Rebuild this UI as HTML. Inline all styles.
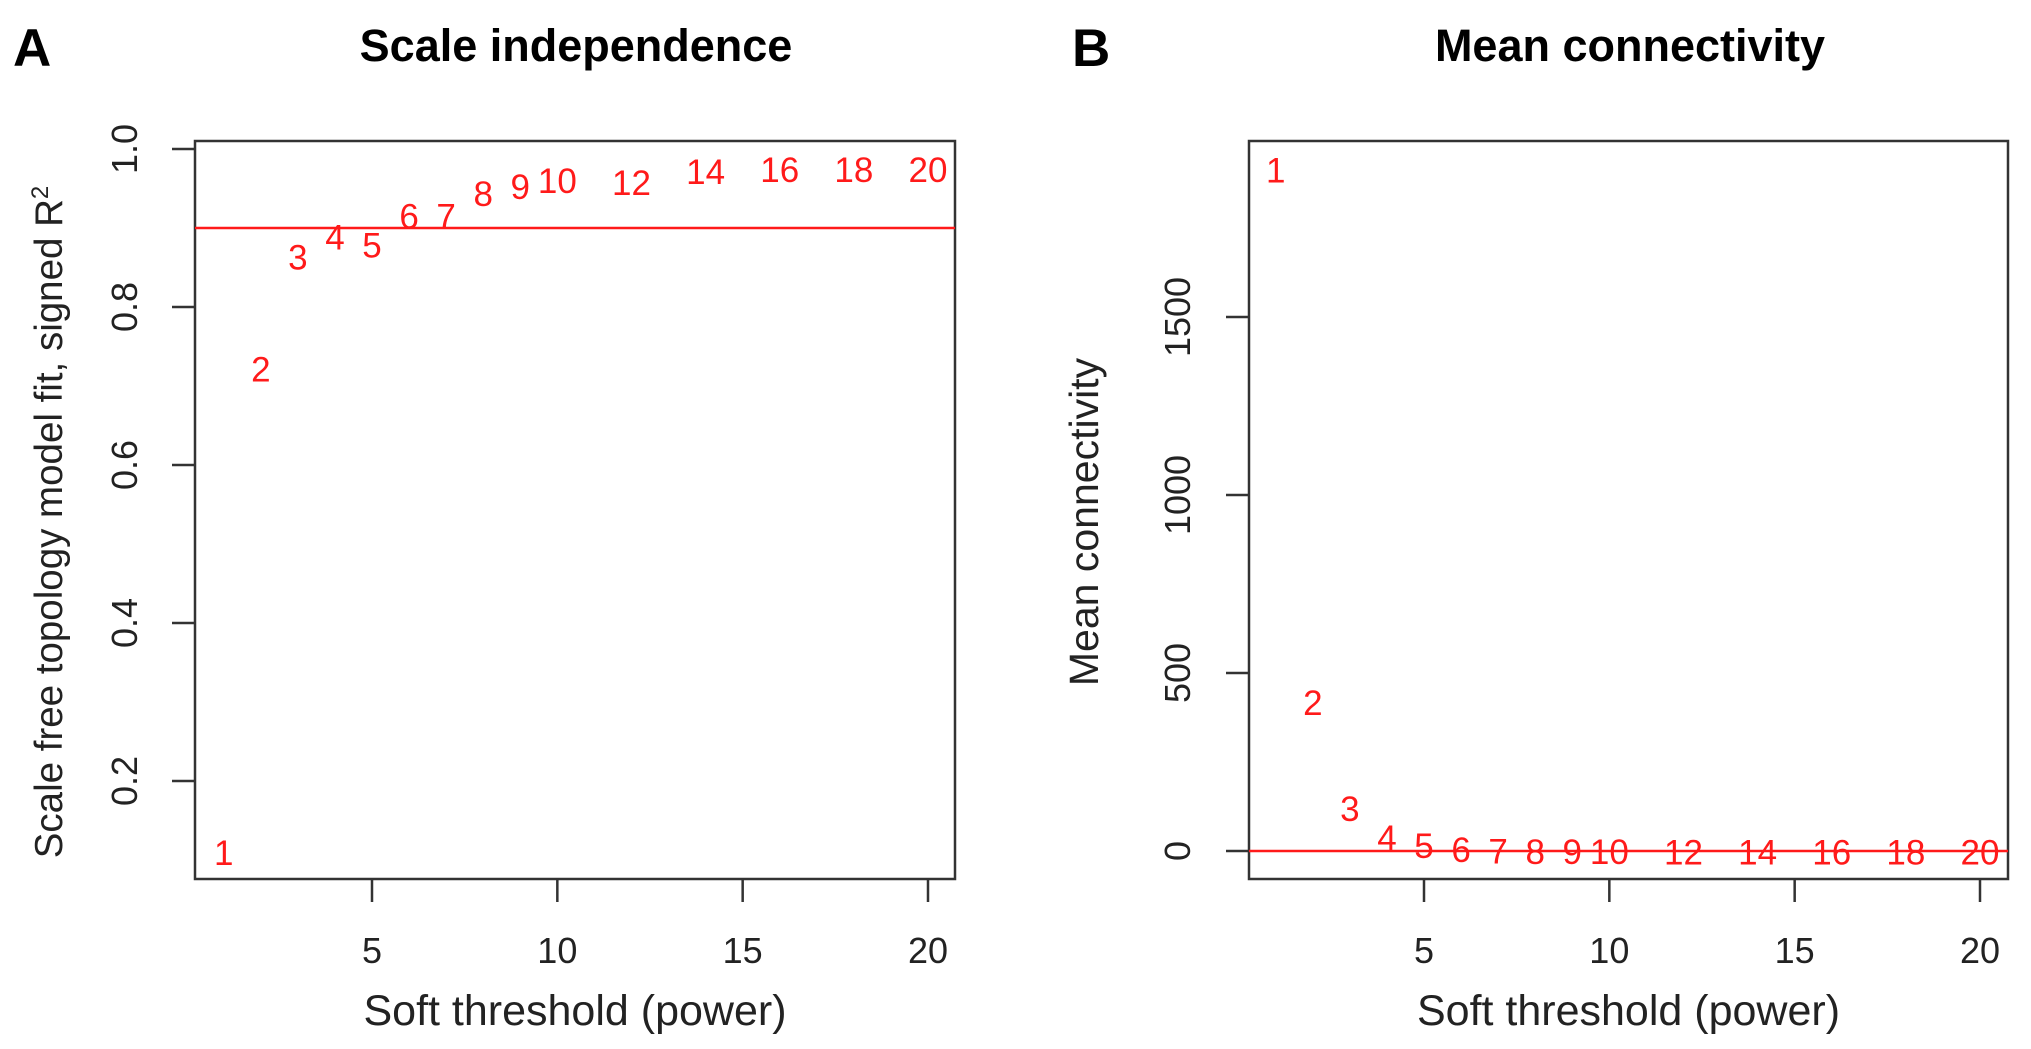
<!DOCTYPE html>
<html><head><meta charset="utf-8"><style>
html,body{margin:0;padding:0;background:#fff;}
svg{display:block;font-family:"Liberation Sans",Arial,sans-serif;}
</style></head><body>
<svg id="fig" width="2031" height="1049" viewBox="0 0 2031 1049">
<text x="13" y="66" font-size="53" font-weight="bold">A</text>
<text x="576" y="61" font-size="45" font-weight="bold" text-anchor="middle">Scale independence</text>
<text x="1072" y="66" font-size="53" font-weight="bold">B</text>
<text x="1630" y="61" font-size="45" font-weight="bold" text-anchor="middle">Mean connectivity</text>
<g id="pa"></g>
<g id="pb"></g>
</svg>
<script>
const powers = [1,2,3,4,5,6,7,8,9,10,12,14,16,18,20];
const r2Values = [0.110,0.722,0.864,0.889,0.879,0.916,0.916,0.944,0.953,0.961,0.958,0.972,0.975,0.975,0.975];
const meanK = [1915,418,121,40,17,5,2,0,0,0,-1,-1,-1,-1,-1];
const xTicks = [5,10,15,20];
const r2Ticks = [0.2,0.4,0.6,0.8,1.0];
const r2TickLabels = ["0.2","0.4","0.6","0.8","1.0"];
const kTicks = [0,500,1000,1500];
const kTickLabels = ["0","500","1000","1500"];
const r2Cutoff = 0.9;
const kCutoff = 0;

const NS='http://www.w3.org/2000/svg';
function mk(g,tag,attrs,text){const e=document.createElementNS(NS,tag);for(const k in attrs)e.setAttribute(k,attrs[k]);if(text!==undefined)e.textContent=text;g.appendChild(e);return e;}

function panel(gid, box, xs, ys, yvals, yTicks, yTickLabels, cutoff, ylab, prefix, ylabX, tickLabX, ylabSize){
  const g=document.getElementById(gid);
  const X=v=>xs.p0+(v-xs.v0)*(xs.p1-xs.p0)/(xs.v1-xs.v0);
  const Y=v=>ys.p0+(v-ys.v0)*(ys.p1-ys.p0)/(ys.v1-ys.v0);
  const fr=mk(g,'rect',{x:box.x0,y:box.y0,width:box.x1-box.x0,height:box.y1-box.y0,fill:'none',stroke:'#333','stroke-width':2.5});
  
  
  xTicks.forEach(t=>{
    const l=mk(g,'line',{x1:X(t),x2:X(t),y1:box.y1,y2:box.y1+23,stroke:'#333','stroke-width':2.5});
    
    
    const tx=mk(g,'text',{x:X(t),y:963,'font-size':36,'text-anchor':'middle',fill:'#222'},String(t));
    
    
  });
  yTicks.forEach((t,i)=>{
    const l=mk(g,'line',{x1:box.x0-23,x2:box.x0,y1:Y(t),y2:Y(t),stroke:'#333','stroke-width':2.5});
    
    
    const tx=mk(g,'text',{x:tickLabX,y:Y(t),'font-size':36,'text-anchor':'middle',fill:'#222',transform:`rotate(-90 ${tickLabX} ${Y(t)})`},yTickLabels[i]);
    
    
  });
  const cl=mk(g,'line',{x1:box.x0,x2:box.x1,y1:Y(cutoff),y2:Y(cutoff),stroke:'#ff1a1a','stroke-width':2.5});
  
  
  powers.forEach((p,i)=>{
    const tx=mk(g,'text',{x:X(p),y:Y(yvals[i])+13,'font-size':35,'text-anchor':'middle',fill:'#ff1a1a'},String(p));
    
    
  });
  const xl=mk(g,'text',{x:(box.x0+box.x1)/2,y:1025,'font-size':43,'text-anchor':'middle',fill:'#222'},'Soft threshold (power)');
  
  
  const cy=(box.y0+box.y1)/2+12;
  const yl=mk(g,'text',{x:ylabX,y:cy,'font-size':ylabSize,'text-anchor':'middle',fill:'#222',transform:`rotate(-90 ${ylabX} ${cy})`});
  
  
  yl.innerHTML=ylab;
}

panel('pa',{x0:195,x1:955,y0:141,y1:879},{v0:5,v1:20,p0:372,p1:928},{v0:1.0,v1:0.2,p0:149,p1:781},
  r2Values,r2Ticks,r2TickLabels,r2Cutoff,'Scale free topology model fit, signed R<tspan font-size="24" dy="-14">2</tspan>','panel-a',62,137,38.5);
panel('pb',{x0:1249,x1:2008,y0:141,y1:879},{v0:5,v1:20,p0:1424,p1:1980},{v0:0,v1:1500,p0:851,p1:317},
  meanK,kTicks,kTickLabels,kCutoff,'Mean connectivity','panel-b',1098,1190,41);
</script>
</body></html>
